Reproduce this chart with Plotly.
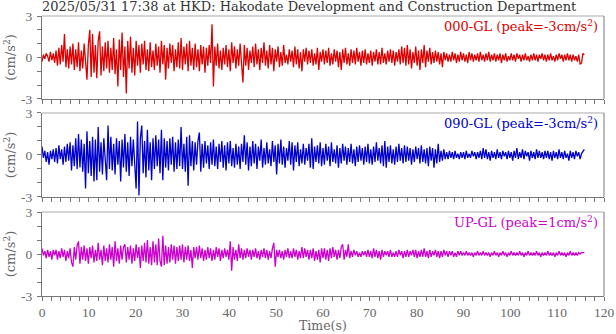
import numpy as np
import plotly.graph_objects as go
from plotly.subplots import make_subplots

dt = 0.3  # sampling interval of the transcribed traces (s)

ns_000 = [
    -0.3, 0.2, -0.1, 0.3, 0.1, -0.3, 0.4, -0.2, 0.3, -0.4,
    0.5, -0.6, 0.7, -0.5, 0.9, -0.3, 1.7, -0.7, 0.6, -0.8,
    0.8, -0.5, 1.0, -0.9, 0.6, -0.7, 1.1, -1.0, 0.5, -0.8,
    1.0, -0.6, -1.6, 0.9, 2.0, -1.4, 1.7, -1.1, 0.9, -1.5,
    1.2, 1.9, -1.3, 0.8, -1.0, 1.1, -0.8, 1.2, -1.1, 0.7,
    -0.9, 1.4, -1.2, 0.6, -2.1, 1.3, -0.9, 1.8, -1.4, 0.8,
    -2.6, 1.2, -0.8, 1.5, -1.1, 0.7, -1.3, 1.2, -0.6, 0.9,
    -1.1, 1.0, -0.5, 1.2, -0.9, 0.6, -1.0, 1.1, -0.7, 0.5,
    -0.9, 1.0, -0.6, 0.8, -1.1, 1.2, -0.5, 0.9, -1.6, 0.7,
    -0.8, 1.0, -0.4, 0.9, -1.0, 0.6, -0.7, 1.1, -0.8, 1.4,
    -0.9, 0.8, -0.5, 1.0, -1.0, 1.2, -0.6, 0.7, -0.9, 1.0,
    -0.7, 0.6, -1.0, 0.9, -0.5, 0.8, -1.1, 0.7, -0.6, 0.9,
    -0.4, 2.4, -2.1, 0.8, -0.6, 1.0, -0.8, 0.5, -0.9, 0.7,
    -0.5, 0.9, -0.7, 0.6, -1.0, 1.1, -0.4, 0.8, -0.8, 0.6,
    -0.6, 1.0, -0.5, -1.8, 0.9, -0.6, 0.7, -0.9, 0.5, -0.4,
    0.8, -0.7, 1.0, -0.5, 0.6, -0.9, 0.7, -0.4, 1.1, -0.6,
    0.5, -0.8, 0.9, -0.5, 0.7, -1.0, 0.6, -0.3, 0.8, -0.7,
    0.4, -0.6, 0.9, -0.4, 0.2, -0.5, 0.6, -0.3, 0.5, -0.7,
    0.8, -0.5, 0.6, -0.8, 0.4, -1.0, 0.6, -0.3, 0.7, -0.5,
    0.5, -0.4, 0.6, -0.6, 0.3, -0.5, 0.7, -0.9, 0.4, -0.3,
    0.6, -0.5, 0.5, -0.4, 0.7, -0.6, 0.3, -0.5, 0.6, -0.3,
    0.5, -0.7, 0.4, -0.9, 0.6, -0.4, 0.7, -0.5, 0.3, -0.6,
    0.6, -0.4, 0.5, -0.5, 0.7, -0.3, 0.4, -0.6, 0.5, -0.4,
    0.6, -0.5, 0.3, -0.4, 0.5, -0.6, 0.4, -0.3, 0.6, -0.5,
    0.4, -0.5, 0.7, -0.4, 0.3, -0.5, 0.5, -0.3, 0.6, -0.4,
    0.5, -0.6, 0.4, -0.3, 0.6, -0.5, 0.8, -0.4, 0.7, -0.6,
    0.9, -0.5, 0.6, -0.8, 0.4, -0.4, 0.8, -0.6, 0.5, -0.9,
    0.6, -0.4, 0.9, -0.7, 0.5, -0.3, 0.7, -0.5, 0.4, -0.4,
    0.5, -0.3, 0.4, -0.5, 0.3, -0.7, 0.4, -0.2, 0.3, -0.3,
    0.2, -0.3, 0.4, -0.2, 0.3, -0.4, 0.2, -0.3, 0.4, -0.2,
    0.3, -0.3, 0.2, -0.4, 0.4, -0.2, 0.3, -0.3, 0.2, -0.2,
    0.3, -0.3, 0.4, -0.2, 0.2, -0.3, 0.3, -0.2, 0.4, -0.3,
    0.2, -0.2, 0.3, -0.3, 0.2, -0.2, 0.3, -0.4, 0.2, -0.2,
    0.3, -0.3, 0.1, -0.2, 0.3, -0.2, 0.2, -0.3, 0.3, -0.1,
    0.2, -0.3, 0.2, -0.2, 0.3, -0.2, 0.1, -0.3, 0.2, -0.2,
    0.3, -0.2, 0.2, -0.3, 0.2, -0.1, 0.3, -0.2, 0.2, -0.3,
    0.2, -0.2, 0.3, -0.2, 0.1, -0.3, 0.2, -0.2, 0.3, -0.1,
    0.2, -0.3, 0.2, -0.2, 0.3, -0.2, 0.2, -0.3, 0.2, -0.2,
    0.1, -0.3, 0.2, -0.5, -0.4, 0.3, 0.2,
]

ew_090 = [
    0.6, -0.2, 0.3, -0.5, 0.2, -0.7, 0.3, -0.3, 0.4, -0.5,
    0.5, -0.6, 0.7, -0.3, 0.4, -0.7, 0.6, -0.5, 0.8, -0.4,
    0.9, -1.1, 0.7, -0.8, 1.2, -1.0, 1.5, -0.9, 1.1, -1.2,
    0.8, -2.4, 1.7, -1.3, 1.0, -1.5, 1.3, -1.9, 1.1, -1.8,
    2.0, -1.2, 0.9, -1.4, 1.2, -0.8, -1.8, 2.1, -1.0, 1.3,
    -1.1, 0.8, -1.4, 1.2, -0.7, 1.0, -1.9, 1.1, -0.9, 1.5,
    -1.2, 0.9, -1.5, 1.3, -0.8, 1.1, -1.0, -2.4, 2.4, -2.9,
    1.2, 2.1, -1.3, 1.0, -1.6, 1.8, -1.1, 0.9, -1.8, 1.2,
    -1.0, 1.4, -0.8, 1.1, -1.3, 1.8, -1.8, 1.2, -0.9, 1.0,
    -1.1, 1.2, -0.7, 1.3, -1.2, 0.9, -1.0, 1.1, -0.8, 2.0,
    -1.0, 0.8, -1.2, 1.3, -2.2, 1.4, -0.8, 1.0, -1.1, 0.9,
    -0.7, 1.0, 1.6, -1.2, 0.8, -0.9, 1.0, -0.6, 0.7, -1.0,
    0.9, -0.7, 1.1, -0.8, 0.6, -1.0, 0.8, -0.5, 1.0, -0.9,
    0.7, -1.1, 0.9, -0.6, 1.0, -0.8, 0.5, -0.9, 0.8, -0.7,
    0.6, -1.0, 0.8, -0.5, 1.4, -0.7, 0.9, -1.1, 0.6, -0.8,
    1.0, -0.6, 0.8, -1.0, 0.6, -0.4, 1.1, -0.9, 0.5, -0.7,
    0.9, -0.6, 0.4, -0.8, 1.0, -0.5, 0.7, -1.4, 0.8, -0.6,
    1.1, -0.7, 0.6, -0.9, 0.5, -0.4, 1.0, -0.7, 0.9, -1.1,
    0.7, -0.5, 0.9, -0.8, 0.4, -0.6, 0.8, -0.7, 0.5, -0.4,
    0.8, -0.9, 1.2, -1.0, 0.6, -0.5, 0.7, -0.6, 0.9, -0.8,
    0.5, -0.7, 0.8, -0.4, 0.6, -0.8, 0.9, -0.5, 0.4, -0.6,
    0.7, -0.9, 0.5, -0.6, 0.8, -0.4, 0.6, -0.7, 0.5, -0.5,
    0.8, -0.6, 0.4, -0.8, 0.6, -0.5, 0.7, -0.4, 0.5, -0.7,
    0.6, -0.5, 0.8, -0.6, 0.4, -0.7, 0.6, -0.5, 0.9, -0.4,
    0.5, -0.6, 0.7, -0.8, 1.0, -0.9, 0.6, -0.5, 0.7, -0.6,
    0.4, -0.7, 0.6, -0.5, 0.8, -0.4, 0.5, -0.6, 0.7, -0.5,
    0.6, -0.4, 0.5, -0.7, 0.4, -0.5, 0.6, -0.3, 0.5, -0.6,
    0.7, -0.5, 0.4, -0.6, 0.5, -0.8, 0.6, -0.4, 0.5, -0.9,
    0.4, -0.6, 0.8, -0.5, 0.3, -0.4, 0.4, -0.3, 0.2, -0.3,
    0.3, -0.2, 0.2, -0.3, 0.3, -0.2, 0.1, -0.3, 0.2, -0.2,
    0.2, -0.3, 0.3, -0.2, 0.1, -0.2, 0.3, -0.1, 0.2, -0.3,
    0.2, -0.2, 0.3, -0.3, 0.5, -0.2, 0.4, -0.3, 0.2, -0.4,
    0.3, -0.2, 0.2, -0.3, 0.4, -0.2, 0.2, -0.3, 0.3, -0.1,
    0.2, -0.3, 0.3, -0.2, 0.2, -0.4, 0.3, -0.2, 0.5, -0.3,
    0.2, -0.2, 0.4, -0.3, 0.3, -0.1, 0.2, -0.4, 0.3, -0.2,
    0.2, -0.3, 0.4, -0.2, 0.3, -0.2, 0.2, -0.3, 0.3, -0.2,
    0.3, -0.3, 0.2, -0.4, 0.3, -0.2, 0.2, -0.3, 0.4, -0.2,
    0.2, -0.3, 0.3, -0.2, 0.1, -0.4, 0.3, -0.2, 0.2, -0.3,
    0.3, -0.1, 0.2, -0.3, 0.1, 0.3, 0.4,
]

ud_up = [
    0.4, -0.1, 0.2, -0.3, 0.3, -0.2, 0.2, -0.4, 0.3, -0.1,
    0.3, -0.4, 0.2, -0.3, 0.4, -0.2, 0.3, -0.5, 0.2, -0.3,
    0.4, -0.6, -0.9, 0.5, -0.4, 0.6, 0.9, -0.7, 0.5, -0.4,
    0.6, -0.5, 0.4, -0.7, 0.5, -0.3, 0.6, -0.6, 0.3, -0.5,
    0.8, -0.4, 0.3, -0.8, 0.6, -0.5, 0.4, -0.6, 0.7, -0.4,
    0.5, -0.9, 0.9, -0.5, 0.4, -0.7, 0.6, -0.4, 0.5, 0.7,
    -0.6, 0.5, -0.4, 0.6, -0.7, 0.4, -0.5, 0.7, -0.3, 0.5,
    -1.0, 0.6, -0.5, 0.8, -0.6, 1.0, -0.7, 0.5, -0.8, 0.9,
    -0.6, 0.7, -0.8, 1.1, -0.5, -0.9, 1.3, -0.8, 0.6, -0.7,
    0.5, -0.6, 0.7, -0.4, 0.6, -0.7, 0.5, -0.5, 0.6, -0.4,
    0.7, -0.6, 0.5, -0.4, 0.6, -0.5, 0.3, -1.0, 0.5, -0.3,
    0.5, -0.4, 0.6, -0.3, 0.4, -0.5, 0.3, -0.4, 0.5, -0.3,
    0.4, -0.5, 0.3, -0.4, 0.5, -0.2, 0.4, -0.5, 0.3, -0.3,
    0.4, -0.2, 0.3, -0.4, 0.9, -1.2, 0.5, -0.4, 0.3, -0.5,
    0.7, -0.3, 0.4, -0.4, 0.3, -0.3, 0.4, -0.2, 0.3, -0.4,
    0.3, -0.2, 0.4, -0.3, 0.2, -0.4, 0.3, -0.2, 0.4, -0.3,
    0.3, -0.4, 0.2, -0.3, 0.4, 0.8, -0.9, 0.3, -0.2, 0.3,
    -0.3, 0.2, -0.4, 0.3, -0.2, 0.4, -0.3, 0.2, -0.3, 0.4,
    -0.2, 0.3, -0.4, 0.2, -0.3, 0.5, -0.3, 0.4, -0.2, 0.3,
    -0.4, 0.3, -0.3, 0.4, -0.5, 0.2, -0.4, 0.3, -0.6, 0.4,
    -0.3, 0.4, -0.4, 0.3, -0.5, 0.4, -0.3, 0.5, -0.2, 0.3,
    -0.4, 0.3, -0.3, 0.5, 0.7, -0.4, 0.3, -0.2, 0.7, -0.3,
    0.2, -0.2, 0.3, -0.1, 0.2, -0.2, 0.1, -0.2, 0.2, -0.1,
    0.2, -0.2, 0.3, -0.2, 0.2, -0.3, 0.4, -0.2, 0.3, -0.3,
    0.2, -0.4, 0.3, -0.2, 0.2, -0.1, 0.2, -0.2, 0.3, -0.2,
    0.1, -0.2, 0.2, -0.2, 0.3, -0.1, 0.2, -0.3, 0.2, -0.2,
    0.3, -0.2, 0.2, -0.1, 0.3, -0.2, 0.3, -0.3, 0.2, -0.2,
    0.3, -0.2, 0.4, -0.2, 0.2, -0.3, 0.3, -0.2, 0.2, -0.1,
    0.3, -0.2, 0.2, -0.3, 0.2, -0.2, 0.3, -0.1, 0.2, -0.2,
    0.2, -0.1, 0.2, -0.2, 0.1, -0.2, 0.2, -0.1, 0.2, -0.1,
    0.1, -0.1, 0.2, -0.1, 0.1, -0.1, 0.1, -0.2, 0.1, -0.1,
    0.2, -0.1, 0.1, -0.1, 0.2, -0.1, 0.1, -0.1, 0.1, -0.2,
    0.1, -0.1, 0.2, -0.1, 0.1, -0.2, 0.1, -0.1, 0.2, -0.1,
    0.1, -0.2, 0.1, -0.1, 0.2, -0.1, 0.1, -0.1, 0.1, -0.1,
    0.2, -0.1, 0.1, -0.2, 0.1, -0.1, 0.2, -0.1, 0.1, -0.1,
    0.1, -0.1, 0.2, -0.1, 0.1, -0.2, 0.1, -0.1, 0.1, -0.1,
    0.2, -0.1, 0.1, -0.1, 0.1, -0.2, 0.1, -0.1, 0.2, -0.1,
    0.1, -0.1, 0.1, -0.2, 0.1, -0.1, 0.2, -0.1, 0.1, -0.1,
    0.1, -0.1, 0.1, 0.0, 0.1, 0.1, 0.1,
]

components = ["000-GL", "090-GL", "UP-GL"]
peaks = ["-3", "-3", "1"]
series = [ns_000, ew_090, ud_up]
colors = ["#dd0000", "#0000cc", "#cc00cc"]
title_text = "2025/05/31 17:38 at HKD: Hakodate Development and Construction Department"
x_title = "Time(s)"
x_ticks = list(range(0, 121, 10))

FONT = "DejaVu Serif"
TICKFONT = "Liberation Serif"
AX = "#777777"
LIGHT = "#aaaaaa"
TXT = "#666666"

fig = make_subplots(rows=3, cols=1, shared_xaxes=False, vertical_spacing=0.0)

domains = [(0.7036, 1.0), (0.3536, 0.6536), (0.0, 0.3)]

for i, (vals, col) in enumerate(zip(series, colors)):
    t = np.arange(len(vals)) * dt
    fig.add_trace(go.Scatter(x=t, y=vals, mode="lines",
                             line=dict(color=col, width=1.3),
                             showlegend=False, hoverinfo="skip"),
                  row=i + 1, col=1)
    r = i + 1
    xa = "xaxis" if r == 1 else f"xaxis{r}"
    ya = "yaxis" if r == 1 else f"yaxis{r}"
    fig.layout[ya].update(
        domain=list(domains[i]), range=[-3, 3], automargin=False,
        tickmode="array", tickvals=[-3, 0, 3], ticktext=["-3", "0", "3"],
        ticks="outside", ticklen=4, tickcolor=AX, tickwidth=1,
        ticklabelstandoff=2,
        minor=dict(tickmode="array", tickvals=[-2, -1, 1, 2], ticks="outside",
                   ticklen=4, tickcolor=AX),
        showline=True, linecolor=AX, linewidth=1, mirror=False,
        showgrid=False, zeroline=False,
        tickfont=dict(family=TICKFONT, size=13.5, color=TXT),
        title=dict(text="(cm/s<sup>2</sup>)", font=dict(family=FONT, size=13, color=TXT),
                   standoff=2),
    )
    fig.layout[xa].update(
        range=[0, 120], automargin=False, tickmode="array", tickvals=x_ticks,
        ticktext=[str(v) for v in x_ticks] if r == 3 else [""] * len(x_ticks),
        ticks="outside", ticklen=4, tickcolor=AX, tickwidth=1,
        ticklabelstandoff=0,
        minor=dict(dtick=2, ticks="outside", ticklen=4, tickcolor=AX),
        showline=True, linecolor=AX, linewidth=1, mirror=False,
        showgrid=False, zeroline=False,
        tickfont=dict(family=TICKFONT, size=13.5, color=TXT),
    )
    xr = "x" if r == 1 else f"x{r}"
    yr = "y" if r == 1 else f"y{r}"
    # top and right frame lines
    fig.add_shape(type="line", xref=f"{xr} domain", yref=f"{yr} domain",
                  x0=0, x1=1, y0=1, y1=1, line=dict(color=LIGHT, width=1))
    fig.add_shape(type="line", xref=f"{xr} domain", yref=f"{yr} domain",
                  x0=1, x1=1, y0=0, y1=1, line=dict(color=AX, width=1))
    fig.add_annotation(xref=f"{xr} domain", yref=f"{yr} domain", x=0.993, y=1.0,
                       xanchor="right", yanchor="top", showarrow=False,
                       text=f"{components[i]} (peak={peaks[i]}cm/s<sup>2</sup>)",
                       font=dict(family=FONT, size=13, color=col))

# x-axis title as a separate text just below the tick labels
fig.add_annotation(xref="paper", yref="paper", x=0.5, y=-37.5 / 280,
                   xanchor="center", yanchor="bottom", showarrow=False, borderpad=0,
                   text=x_title, font=dict(family=FONT, size=12.5, color=TXT))

fig.update_layout(
    width=616, height=334,
    margin=dict(l=42, r=12, t=16, b=38),
    paper_bgcolor="white", plot_bgcolor="white",
    title=dict(text=title_text, x=42 / 616, xanchor="left", y=1 - 6 / 334, yanchor="middle",
               font=dict(family=FONT, size=13, color="#333333")),
)

fig.write_html("out.html")
